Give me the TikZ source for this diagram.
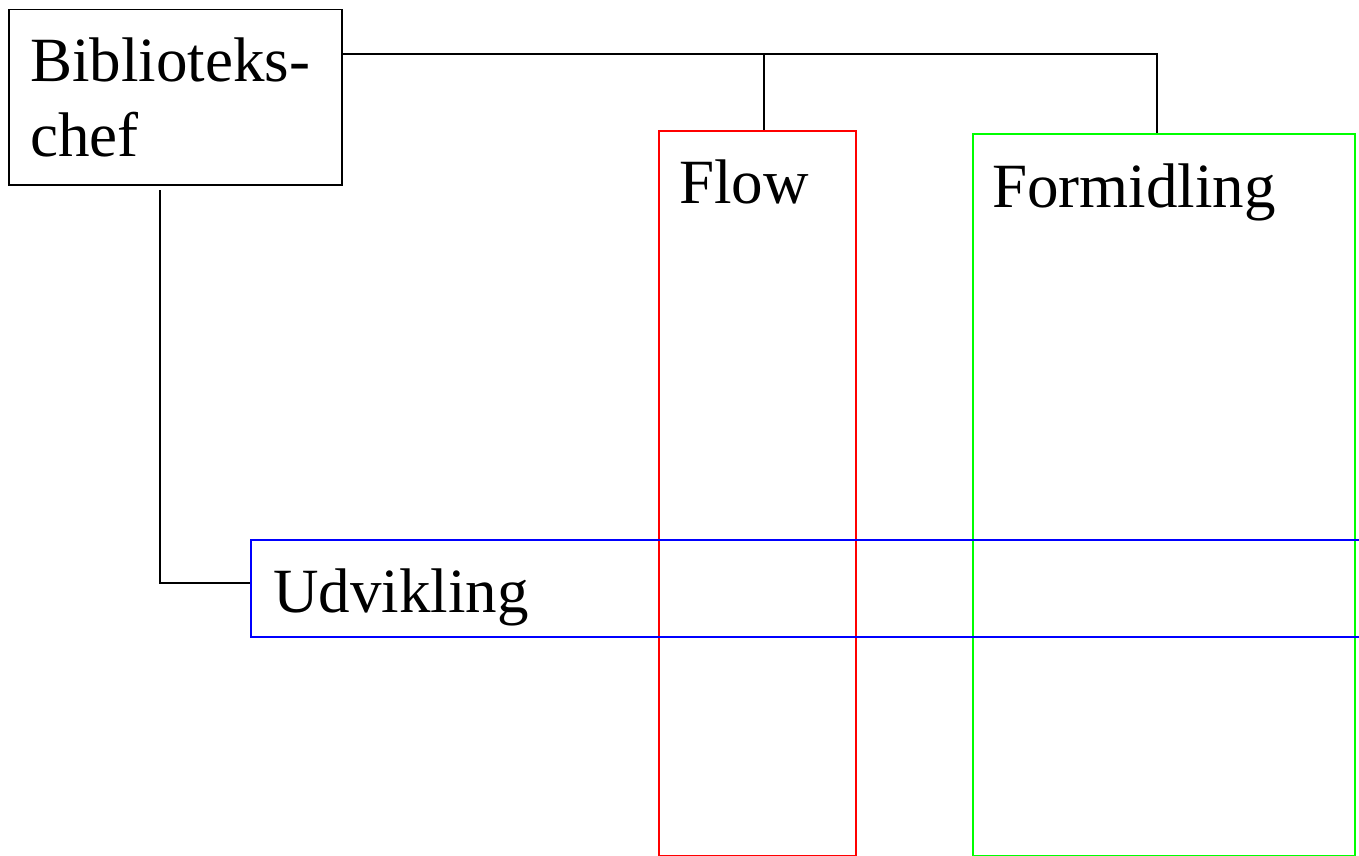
\documentclass[tikz,border=0pt]{standalone}
\usepackage{fontspec}
\setmainfont{Liberation Serif}
\begin{document}
\begin{tikzpicture}[x=1pt,y=-1pt,
  box/.style={draw, inner sep=0pt, anchor=north west},
  conn/.style={draw=black, line width=1.3pt},
  lbl/.style={anchor=base west, inner sep=0pt, font=\fontsize{63}{75}\selectfont}]
\useasboundingbox (0,0) rectangle (1359,856);
\clip (0,0) rectangle (1359,856);
\node[box, line width=1.5pt, minimum width=333pt, minimum height=175pt] (chef) at (8,9) {};
\node[box, draw=red, line width=1.6pt, minimum width=197pt, minimum height=725pt] (flow) at (658,130) {};
\node[box, draw=green, line width=1.6pt, minimum width=382pt, minimum height=722pt] (form) at (972,133) {};
\node[box, draw=blue, line width=1.6pt, minimum width=1200pt, minimum height=97pt] (udv) at (250,539) {};
\node[lbl] (t1) at (30,82) {Biblioteks-};
\node[lbl] (t2) at (30,157) {chef};
\node[lbl] (t3) at (679,203) {Flow};
\node[lbl] (t4) at (992,207) {Formidling};
\node[lbl] (t5) at (273,612) {Udvikling};
\coordinate (j1) at (764,54);
\coordinate (j2) at (1157,54);
\coordinate (j3) at (160,190);
\draw[conn] (chef.east |- j1) -- (j2) -- (j2 |- form.north);
\draw[conn] (j1) -- (j1 |- flow.north);
\draw[conn] (j3) |- (udv.west |- 0,583);
\end{tikzpicture}
\end{document}
